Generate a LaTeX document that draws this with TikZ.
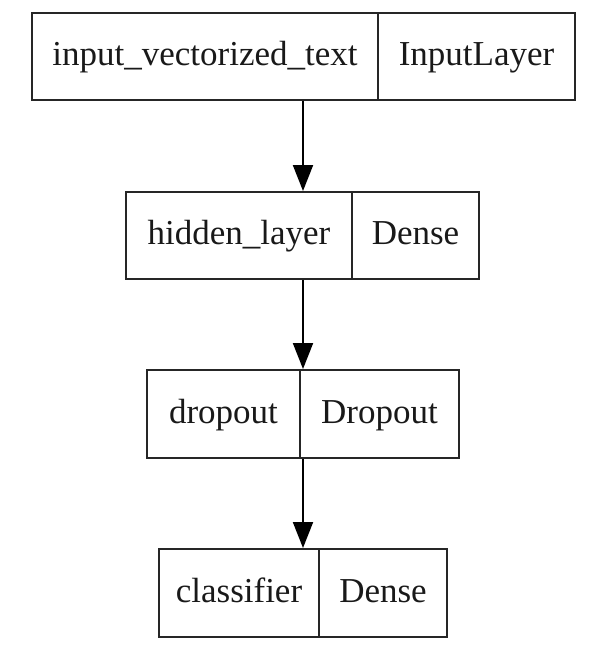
\documentclass[tikz,border=0pt]{standalone}
\usepackage{fontspec}
\setmainfont{Liberation Serif}
\usetikzlibrary{arrows.meta}
\begin{document}
\begin{tikzpicture}[x=0.5pt,y=-0.5pt,
  cell/.style={draw=black!85, line width=1pt, rectangle, inner sep=0pt,
    font=\fontsize{17.5}{21}\selectfont, text height=12pt, text depth=3pt,
    text=black!90},
  arr/.style={draw=black, line width=1pt, -{Triangle[length=13pt,width=10pt]}}]
\useasboundingbox (0,0) rectangle (601,650);
% box 1
\node[cell, minimum width=173pt, minimum height=43.5pt] (a1) at (205,56) {input\_vectorized\_text};
\node[cell, minimum width=98.5pt, minimum height=43.5pt] (b1) at (476.5,56) {InputLayer};
% box 2
\node[cell, minimum width=113pt, minimum height=43.5pt] (a2) at (239,235.5) {hidden\_layer};
\node[cell, minimum width=63.5pt, minimum height=43.5pt] (b2) at (415.5,235.5) {Dense};
% box 3
\node[cell, minimum width=76.5pt, minimum height=44pt] (a3) at (223.5,414) {dropout};
\node[cell, minimum width=79.5pt, minimum height=44pt] (b3) at (379.5,414) {Dropout};
% box 4
\node[cell, minimum width=80pt, minimum height=44pt] (a4) at (239,593) {classifier};
\node[cell, minimum width=64pt, minimum height=44pt] (b4) at (383,593) {Dense};
% arrows
\coordinate (ax) at (303,0);
\draw[arr] (a1.south -| ax) -- (a2.north -| ax);
\draw[arr] (a2.south -| ax) -- (b3.north -| ax);
\draw[arr] (b3.south -| ax) -- (a4.north -| ax);
\end{tikzpicture}
\end{document}
